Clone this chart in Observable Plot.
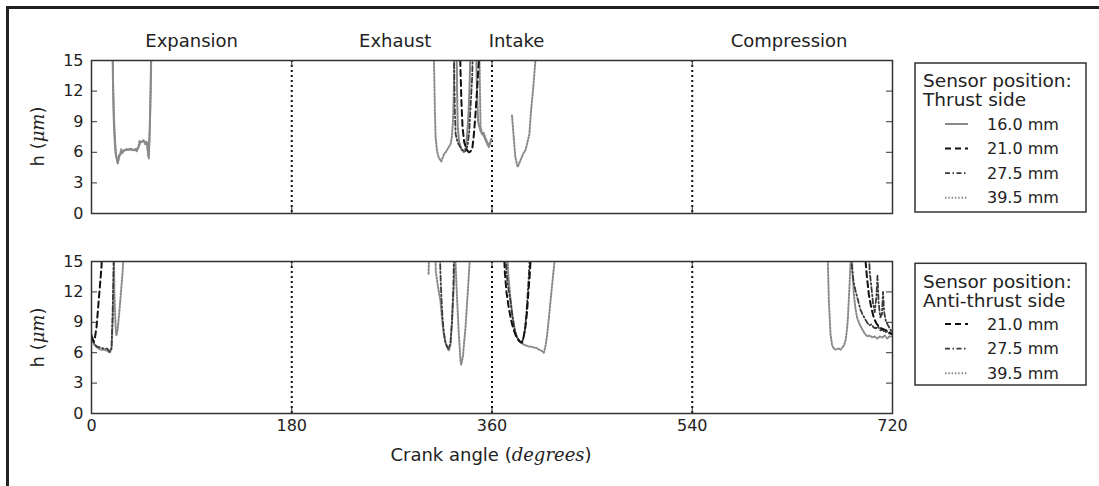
<!DOCTYPE html>
<html><head><meta charset="utf-8">
<script src="https://cdn.jsdelivr.net/npm/d3@7"></script>
<script src="https://cdn.jsdelivr.net/npm/@observablehq/plot@0.6"></script>
<style>
html,body{margin:0;padding:0;background:#fff;}
#wrap{position:relative;width:1099px;height:486px;overflow:hidden;background:#fff;}
#wrap svg{display:block;}
#border{position:absolute;left:6px;top:6px;width:1100px;height:500px;border-top:3px solid #222;border-left:3px solid #222;pointer-events:none;}
</style></head><body>
<div id="wrap"></div>
<script>
// ---- data ----
const yTicks = [0, 3, 6, 9, 12, 15];
const xTicks = [0, 180, 360, 540, 720];
const strokeBoundaries = [180, 360, 540];
const phaseNames = ["Expansion", "Exhaust", "Intake", "Compression"];
const phaseAngles = [90, 273, 382, 627];
const legendTitleThrust = ["Sensor position:", "Thrust side"];
const legendTitleAnti = ["Sensor position:", "Anti-thrust side"];
const thrustLabels = ["16.0 mm", "21.0 mm", "27.5 mm", "39.5 mm"];
const antiLabels = ["21.0 mm", "27.5 mm", "39.5 mm"];

// Thrust side: segments of [crank angle, h]
const thrust16_0 = [
  [[19.0,17],[19.3,13],[19.8,10],[20.4,8],[21.5,6],[23.5,5.0],[25,5.6],[27,6.0],[30,6.2],[34,6.3],[38,6.2],[42,6.4],[44,7.0],[47,7.1],[50,6.9],[51.3,5.6],[52.3,8],[53.1,12],[53.8,17]],
  [[328.2,17],[328.6,12],[329.2,8.5],[330.5,7],[332.5,6.3],[334.7,6.0],[336.5,6.5],[337.7,7.8],[339,10],[340,13],[340.8,17]],
  [[345.5,17],[346.5,12],[347.5,9],[349.7,8.1],[351,7.8],[352.6,7.9],[354,7.4],[355.7,7.0],[357.1,6.7],[358.5,7.0],[359.5,7.3]]
];
const thrust21_0 = [
  [[331,17],[331.7,14],[332.5,11],[333.5,8.5],[335,7],[337,6.3],[339.2,6.0],[340.7,6.1],[342.2,6.3],[343.5,7.5],[345,9.5],[346.5,12],[348.2,15],[348.8,17]]
];
const thrust27_5 = [
  [[325.5,17],[326,14],[326.6,10],[327.3,7.8],[329,7.0],[331,6.6],[333.5,6.2],[336,6.1],[338,6.6],[339.5,8],[341,11],[342.2,13.4],[343,17]]
];
const thrust39_5 = [
  [[18.8,17],[19.2,14],[19.7,11.5],[20.4,9],[21.3,7],[22.2,5.6],[23.7,4.9],[24.7,5.7],[25.7,5.8],[26.7,6.3],[27.7,5.9],[29.2,6.2],[31.2,6.3],[33.2,6.2],[35.2,6.4],[37.2,6.2],[39.2,6.3],[40.7,6.1],[42.2,6.6],[43.2,7.1],[45.2,7.0],[46.7,7.2],[48.2,6.8],[49.7,7.0],[50.7,6.0],[51.5,5.4],[52.2,7.5],[52.8,10],[53.4,13],[54,17]],
  [[307.6,17],[308,14],[308.7,10],[309.3,7.5],[310.5,6.2],[312,5.5],[314.4,5.1],[316.8,5.8],[319,6.1],[321,6.5],[322.8,6.8],[324,7.6],[324.9,9.0],[325.7,12],[326.4,17]],
  [[348.5,17],[349.2,12],[349.7,8.5],[351,7.9],[353,7.5],[355,7.0],[357.1,6.5],[358.5,6.9],[359.3,7.4]],
  [[378,9.6],[379.5,7.5],[381,5.5],[383.1,4.55],[385.5,5.2],[388,5.85],[390,6.2],[391.5,6.8],[393.6,7.8],[395.1,10.1],[396.9,12.1],[399,15],[399.4,17]]
];

// Anti-thrust side
const anti21_0 = [
  [[0,7.6],[1,7.3],[2,7.1],[3,7.4],[4.5,8.5],[6,10.5],[7.5,12.5],[9,14.5],[10,17]],
  [[370.5,17],[371.5,14],[373,12],[375,10.5],[377,9.3],[379,8.4],[381,7.8],[383,7.4],[385,7.1],[387,7.0],[388.5,7.6],[390,8.5],[391.5,10],[392.5,11.7],[393.8,13.5],[394.6,15],[395,17]],
  [[695.3,17],[695.8,15],[697,13.5],[698.8,11.7],[701,10.4],[703.3,9.4],[705.5,8.9],[707.7,8.6],[710,8.4],[712.2,8.3],[714.5,8.2],[716.5,8.0],[718.2,7.97],[720,7.8]]
];
const anti27_5 = [
  [[0,7.8],[1.5,7.2],[3,6.8],[5,6.6],[8,6.5],[11,6.4],[14,6.4],[16.5,6.1],[18,6.5],[18.9,9.4],[19.5,12.5],[20.1,16]],
  [[313,17],[313.6,14],[314.5,11.5],[315.5,9.5],[316.7,8.0],[318.2,7.0],[319.7,6.6],[321.2,6.4],[322.7,7.0],[324,9],[325.3,12.5],[326,17]],
  [[372,17],[373,14],[374.5,12.5],[376.6,11.1],[378.5,9.5],[380,8.5],[382,7.6],[384,7.2],[386,7.0],[388,7.3],[389.5,8.2],[391,10],[392.5,12.5],[393.8,15],[394.2,17]],
  [[682.5,17],[683.5,14.5],[685,13],[687,12],[689,11.2],[691,10.3],[693,9.8],[695,9.4],[697,9.0],[699,8.7],[701,8.8],[703,8.5],[705,8.4],[707,8.6],[709,8.2],[711,8.3],[713,8.0],[715,8.1],[717,7.9],[720,7.8]],
  [[698.5,17],[699.5,14],[701,12.5],[702.5,10.9],[704,10],[705.5,11.5],[706.5,13.6],[707.5,11],[709,9.5],[710.5,9.8],[711.5,12],[712.5,10],[714,9.1],[716,8.7],[718,8.3],[720,8.0]]
];
const anti39_5 = [
  [[0,7.5],[1.5,7.0],[3,6.7],[5,6.5],[8,6.3],[11,6.3],[14,6.2],[16.5,6.0],[18,6.4],[19,9],[19.7,12],[20.3,16]],
  [[20,17],[20.6,12],[21.3,9.5],[22,8.0],[22.5,7.7],[23.5,8.3],[25,10],[26.5,12],[28,14],[29,16]],
  [[303,13.8],[303.2,14.8],[303.4,16]],
  [[309,17],[309.5,14],[311.5,12.5],[313.7,11.1],[315.2,9.2],[316.7,7.8],[318.2,7.0],[319.7,6.5],[321.2,6.2],[322.7,6.8],[324.2,9.4],[325.7,12.7],[326.3,15],[326.5,17]],
  [[327,17],[327.2,15],[328.7,11.1],[330.2,7.8],[331.7,5.2],[332.3,4.8],[333.8,5.6],[336.2,8.5],[338.3,12.1],[339.8,14.8],[340,17]],
  [[373.5,17],[374.5,14],[376,12],[378,10],[379.6,8.8],[381,8.0],[382.7,7.5],[384.1,7.2],[386,7.0],[388.6,6.8],[391,6.7],[393.1,6.6],[395.5,6.6],[397.6,6.5],[399.5,6.5],[402.1,6.3],[404.5,6.2],[406.6,6.0],[408,6.6],[409.6,7.8],[411,9.3],[412.6,11.1],[414.5,13.2],[416.2,15],[416.6,17]],
  [[661.5,17],[661.9,15],[662.8,11.1],[664.3,7.8],[665.8,6.7],[667.3,6.4],[668.8,6.3],[670.3,6.4],[671.8,6.4],[673.3,6.3],[674.8,6.5],[676.3,6.7],[677.8,7.2],[679,8.2],[679.9,9.4],[681.4,12.7],[682.3,15],[682.6,17]],
  [[683,17],[684,14],[685.3,11.7],[686.8,10.3],[688.3,9.4],[690.5,8.8],[692.8,8.3],[695,7.9],[697.3,7.6],[699.5,7.7],[701.8,7.5],[704,7.6],[706.3,7.4],[708.5,7.6],[710.8,7.5],[713,7.7],[715.3,7.4],[717,7.6],[720,7.6]]
];

// ---- styles ----
const S16 = {stroke: "#8a8a8a", strokeWidth: 2};
const S21 = {stroke: "#111", strokeWidth: 2, strokeDasharray: "6,4"};
const S27 = {stroke: "#3a3a3a", strokeWidth: 1.8, strokeDasharray: "5,2.5,1.5,2.5"};
const S39 = {stroke: "#8a8a8a", strokeWidth: 2, strokeDasharray: "1.5,1.8"};

const W = 1099, ML = 91, MR = 207;
const innerW = W - ML - MR, innerH = 153;

function rows(segments) {
  return segments.flatMap((seg, i) => seg.map(([angle, h]) => ({angle, h, seg: i})));
}
function lineMark(segments, style) {
  return Plot.line(rows(segments), {x: "angle", y: "h", z: "seg", clip: true, ...style});
}
function frameMarks() {
  return [
    Plot.frame({stroke: "#333", strokeWidth: 1.5}),
    Plot.tickY(yTicks, {y: d => d, insetRight: innerW - 6, stroke: "#333"}),
    Plot.tickY(yTicks, {y: d => d, insetLeft: innerW - 6, stroke: "#333"}),
    Plot.tickX(xTicks, {x: d => d, insetTop: innerH - 6, stroke: "#333"}),
    Plot.tickX(xTicks, {x: d => d, insetBottom: innerH - 6, stroke: "#333"}),
    Plot.axisY(yTicks, {tickSize: 0, tickPadding: 8, label: null, fontSize: 16})
  ];
}
const baseStyle = {fontFamily: "DejaVu Sans", fontSize: "16px", color: "#222", background: "white", overflow: "visible"};
const dividers = Plot.ruleX(strokeBoundaries, {stroke: "#111", strokeWidth: 2, strokeDasharray: "2,3"});

const topChart = Plot.plot({
  width: W, height: 237, marginTop: 60, marginBottom: 24, marginLeft: ML, marginRight: MR,
  style: baseStyle,
  x: {domain: [0, 720], axis: null},
  y: {domain: [0, 15]},
  marks: [
    dividers,
    lineMark(thrust39_5, S39),
    lineMark(thrust16_0, S16),
    lineMark(thrust27_5, S27),
    lineMark(thrust21_0, S21),
    ...frameMarks(),
    Plot.text(phaseNames, {x: (d, i) => phaseAngles[i], text: d => d, frameAnchor: "top", lineAnchor: "middle", dy: -19, fill: "#222", fontSize: 18})
  ]
});

const bottomChart = Plot.plot({
  width: W, height: 249, marginTop: 24, marginBottom: 73, marginLeft: ML, marginRight: MR,
  style: baseStyle,
  x: {domain: [0, 720]},
  y: {domain: [0, 15]},
  marks: [
    dividers,
    lineMark(anti39_5, S39),
    lineMark(anti27_5, S27),
    lineMark(anti21_0, S21),
    ...frameMarks(),
    Plot.axisX(xTicks, {tickSize: 0, tickPadding: 6, label: null, fontSize: 16})
  ]
});

const wrap = document.getElementById("wrap");
wrap.appendChild(topChart);
wrap.appendChild(bottomChart);
const border = document.createElement("div");
border.id = "border";
wrap.appendChild(border);

function mixedText(sel, parts) {
  parts.forEach(([t, it]) => {
    const ts = sel.append("tspan").text(t);
    if (it) ts.attr("font-style", "italic").attr("font-family", "DejaVu Serif");
  });
}
function yLabel(svg, cy) {
  const t = d3.select(svg).append("text")
    .attr("transform", `translate(38,${cy}) rotate(-90)`)
    .attr("text-anchor", "middle").attr("dy", "0.35em")
    .attr("fill", "#222").attr("font-size", 18).attr("font-family", "DejaVu Sans");
  mixedText(t, [["h (", false], ["\u03bcm", true], [")", false]]);
}
yLabel(topChart, 60 + innerH / 2);
yLabel(bottomChart, 24 + innerH / 2);
{
  const t = d3.select(bottomChart).append("text")
    .attr("x", 491).attr("y", 218).attr("dy", "0.35em").attr("text-anchor", "middle")
    .attr("fill", "#222").attr("font-size", 18).attr("font-family", "DejaVu Sans");
  mixedText(t, [["Crank angle (", false], ["degrees", true], [")", false]]);
}

function legend(svg, box, title, labels, styles, titleBase, entryBase) {
  const g = d3.select(svg).append("g").attr("font-family", "DejaVu Sans").attr("fill", "#222")
    .attr("text-anchor", "start");
  g.append("rect").attr("x", box[0]).attr("y", box[1]).attr("width", box[2]).attr("height", box[3])
    .attr("fill", "white").attr("stroke", "#333").attr("stroke-width", 1.5);
  title.forEach((t, i) => g.append("text").attr("x", box[0] + 8).attr("y", titleBase + i * 19)
    .attr("text-anchor", "start").attr("font-size", 18.5).text(t));
  labels.forEach((t, i) => {
    const yb = entryBase + i * 24.6;
    const st = styles[i];
    g.append("line").attr("x1", 945).attr("x2", 968).attr("y1", yb - 5.5).attr("y2", yb - 5.5)
      .attr("stroke", st.stroke).attr("stroke-width", st.strokeWidth)
      .attr("stroke-dasharray", st.strokeDasharray || null);
    g.append("text").attr("x", 987).attr("y", yb).attr("text-anchor", "start").attr("font-size", 16).text(t);
  });
}
legend(topChart, [915, 63, 171, 149], legendTitleThrust, thrustLabels, [S16, S21, S27, S39], 87, 129.5);
legend(bottomChart, [915, 26.3, 171, 121.7], legendTitleAnti, antiLabels, [S21, S27, S39], 288 - 237, 329.5 - 237);
</script></body></html>
